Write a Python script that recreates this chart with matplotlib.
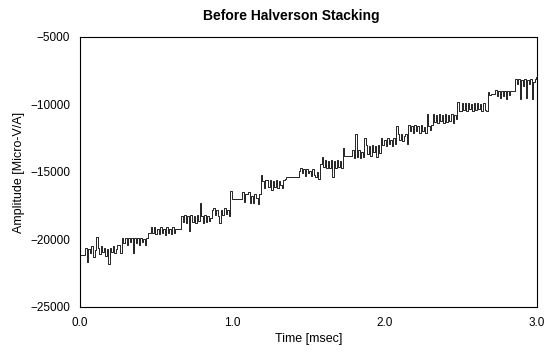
import numpy as np
import matplotlib
matplotlib.use("Agg")
import matplotlib.pyplot as plt

plt.rcParams['font.family'] = ['Liberation Sans', 'DejaVu Sans']

# signal, one sample every 0.01 msec
sample_step = 0.01
amplitude = [
    -21150, -21150, -21150, -21150, -20600, -21700, -20700, -21000, -20500, -21300,
    -20800, -19800, -20600, -21100, -20500, -20900, -20600, -21200, -20700, -21800,
    -20600, -20900, -20500, -21000, -20700, -20400, -20400, -21000, -19900, -20300,
    -19900, -20400, -19900, -20200, -19900, -21000, -19900, -20300, -19900, -20400,
    -19900, -20200, -20000, -20400, -19900, -19500, -19500, -19100, -19500, -19100,
    -19600, -19200, -19600, -19100, -19500, -19200, -19700, -19100, -19500, -19200,
    -19600, -19100, -19500, -19200, -19200, -19200, -19200, -18300, -18700, -18200,
    -18800, -18300, -19400, -18200, -18700, -18300, -18800, -18200, -18600, -17300,
    -18300, -18800, -18200, -18700, -18300, -18600, -18400, -17800, -17700, -18200,
    -17800, -18300, -18800, -17800, -18200, -17700, -18100, -17800, -18300, -16400,
    -17000, -17000, -17000, -17000, -17000, -17000, -17000, -16500, -17200, -16600,
    -16600, -16500, -17300, -16800, -17300, -16600, -16900, -17400, -16600, -15200,
    -15700, -16200, -15600, -15600, -16100, -15600, -16300, -15700, -16100, -15600,
    -16200, -15700, -16000, -16200, -15600, -15500, -15400, -15400, -15400, -15400,
    -15400, -15400, -15400, -15400, -14900, -14700, -15100, -14800, -15300, -14800,
    -15100, -14900, -15300, -14800, -15200, -15400, -15000, -15500, -14400, -13900,
    -14600, -14100, -14700, -14200, -14700, -14100, -15400, -14200, -14700, -14100,
    -14600, -14200, -14700, -13200, -13800, -13800, -13800, -13800, -13800, -13400,
    -14000, -12200, -13900, -13400, -14000, -13500, -13900, -12500, -13000, -13700,
    -13100, -13800, -13000, -13500, -13100, -13900, -13000, -13600, -12500, -13000,
    -12600, -13100, -12500, -12900, -12600, -13100, -12500, -12900, -11600, -12200,
    -12600, -12200, -12700, -12300, -12200, -12900, -11500, -12000, -11600, -12100,
    -11500, -12000, -11600, -12100, -11500, -12000, -11700, -12100, -10700, -11600,
    -11900, -11500, -10700, -11300, -10800, -11400, -10700, -11200, -10800, -11400,
    -10700, -11300, -10800, -11200, -10700, -11400, -10800, -11100, -9800, -10500,
    -10500, -9900, -10400, -9900, -10500, -9900, -10300, -10000, -10500, -9900,
    -10400, -9900, -10300, -10000, -10500, -9900, -10400, -10500, -9100, -9300,
    -9200, -9200, -9200, -8900, -9400, -9000, -9500, -9000, -9400, -9000,
    -9600, -9000, -9300, -9000, -9000, -9000, -8100, -8500, -8100, -9600,
    -8200, -8600, -8100, -9500, -8200, -8500, -8100, -9600, -8300, -8100, -8000,
]
time_ms = np.arange(len(amplitude)) * sample_step

x_ticks = [0.0, 1.0, 2.0, 3.0]
y_ticks = [-25000, -20000, -15000, -10000, -5000]

fig = plt.figure(figsize=(5.52, 3.52), dpi=100)
ax = fig.add_axes([0.145, 0.128, 0.828, 0.767])

ax.plot(time_ms, amplitude, color='black', linewidth=0.6, drawstyle='steps-mid')

ax.set_xlim(0, 3.0)
ax.set_ylim(-25000, -5000)
ax.set_xticks(x_ticks)
ax.set_xticklabels(["%.1f" % v for v in x_ticks])
ax.set_yticks(y_ticks)
ax.tick_params(direction='in', length=0, labelsize=8.5, pad=7)
for s in ax.spines.values():
    s.set_linewidth(0.8)

ax.set_xlabel("Time [msec]", fontsize=9, labelpad=3)
ax.set_ylabel("Amplitude [Micro-V/A]", fontsize=9, labelpad=4)
fig.text(0.528, 0.955, "Before Halverson Stacking", fontsize=10, fontweight='bold',
         ha='center', va='center')

fig.savefig("out.png", dpi=100)
